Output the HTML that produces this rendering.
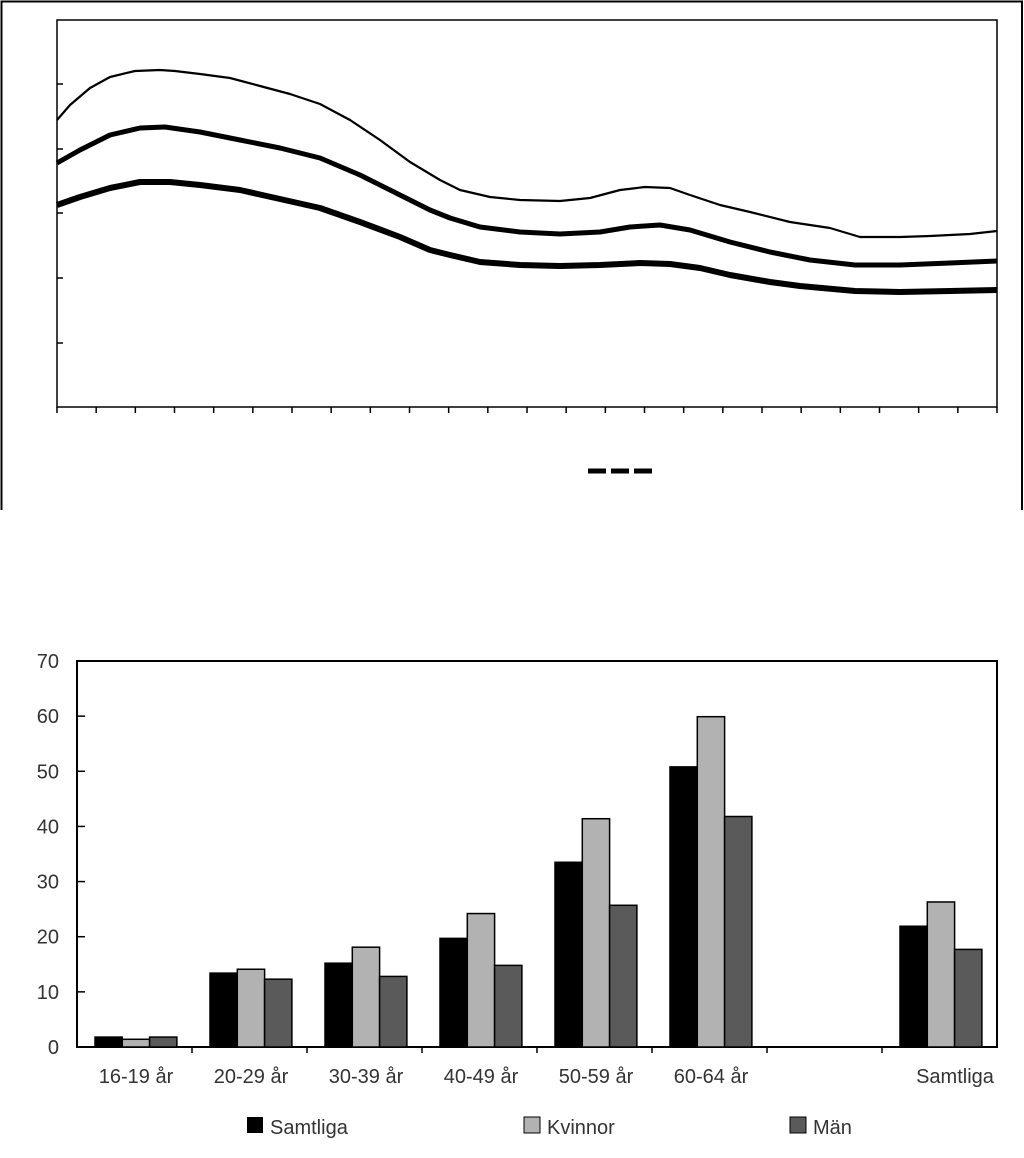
<!DOCTYPE html>
<html><head><meta charset="utf-8"><style>
html,body{margin:0;padding:0;background:#fff;}
svg{display:block;font-family:"Liberation Sans",Arial,sans-serif;}
</style></head><body>
<svg width="1024" height="1158" viewBox="0 0 1024 1158" xmlns="http://www.w3.org/2000/svg">
<path d="M1.5 510 V1.5 H1022 V510" fill="none" stroke="#000" stroke-width="2"/>
<path d="M57 20 H997 V407 H57 Z" fill="none" stroke="#000" stroke-width="1.5"/>
<g stroke="#000" stroke-width="1.5">
<line x1="57" y1="84" x2="63" y2="84"/><line x1="57" y1="149" x2="63" y2="149"/><line x1="57" y1="213" x2="63" y2="213"/><line x1="57" y1="278" x2="63" y2="278"/><line x1="57" y1="343" x2="63" y2="343"/>
</g>
<g id="xt" stroke="#000" stroke-width="1.5"></g>
<g fill="none" stroke="#000" stroke-linejoin="round">
<polyline stroke-width="2.2" points="57,120 70,105 90,88 110,77 135,71 160,70 175,71 200,74 230,78 260,86 290,94 320,104 350,120 380,140 410,162 440,180 460,190 490,197 520,200 560,201 590,198 620,190 645,187 670,188 690,195 720,205 750,212 790,222 830,228 860,237 900,237 930,236 970,234 997,231"/>
<polyline stroke-width="5" points="57,163 80,150 110,135 140,128 165,127 200,132 240,140 280,148 320,158 360,175 400,195 430,210 450,218 480,227 520,232 560,234 600,232 630,227 660,225 690,230 730,242 770,252 810,260 855,265 900,265 950,263 997,261"/>
<polyline stroke-width="6" points="57,205 80,197 110,188 140,182 170,182 200,185 240,190 280,199 320,208 360,222 400,237 430,250 450,255 480,262 520,265 560,266 600,265 640,263 670,264 700,268 730,275 770,282 800,286 855,291 900,292 950,291 997,290"/>
</g>
<g stroke="#000" stroke-width="5"><line x1="588" y1="471" x2="606" y2="471"/><line x1="611" y1="471" x2="629" y2="471"/><line x1="634" y1="471" x2="652" y2="471"/></g>

<rect x="77" y="661" width="920" height="386" fill="none" stroke="#000" stroke-width="2"/>
<g id="bars" stroke="#000" stroke-width="1.5"></g>
<g id="yt" stroke="#000" stroke-width="1.5"></g>
<g font-size="20" fill="#333" text-anchor="end" id="yl"></g>
<g font-size="20" fill="#333" text-anchor="middle">
<text x="136" y="1083">16-19 år</text><text x="251" y="1083">20-29 år</text><text x="366" y="1083">30-39 år</text><text x="481" y="1083">40-49 år</text><text x="596" y="1083">50-59 år</text><text x="711" y="1083">60-64 år</text><text x="955" y="1083">Samtliga</text>
</g>
<g font-size="20" fill="#333">
<rect x="247" y="1117" width="16" height="16" fill="#000"/><text x="270" y="1134">Samtliga</text>
<rect x="524" y="1117" width="16" height="16" fill="#b2b2b2" stroke="#000"/><text x="547" y="1134">Kvinnor</text>
<rect x="790" y="1117" width="16" height="16" fill="#5a5a5a" stroke="#000"/><text x="813" y="1134">Män</text>
</g>
<script>
var ns="http://www.w3.org/2000/svg";
function el(p,t,a){var e=document.createElementNS(ns,t);for(var k in a)e.setAttribute(k,a[k]);p.appendChild(e);return e;}
var xt=document.getElementById('xt');
for(var i=0;i<=24;i++){var x=57+i*940/24;el(xt,'line',{x1:x,y1:407,x2:x,y2:413});}
var data=[[1.8,1.4,1.8],[13.4,14.1,12.3],[15.2,18.1,12.8],[19.7,24.2,14.8],[33.5,41.4,25.7],[50.8,59.9,41.8],null,[21.9,26.3,17.7]];
var cols=['#000','#b2b2b2','#5a5a5a'];
var b=document.getElementById('bars');var s=386/70;
data.forEach(function(d,g){if(!d)return;var x0=77+g*115+18;d.forEach(function(v,j){var h=v*s;el(b,'rect',{x:x0+j*27.3,y:1047-h,width:27.3,height:h,fill:cols[j]});});});
var yt=document.getElementById('yt');
for(var i=1;i<8;i++){var x=77+i*115;el(yt,'line',{x1:x,y1:1047,x2:x,y2:1053});}
var yl=document.getElementById('yl');
for(var v=0;v<=70;v+=10){var y=1047-v*s;if(v>0&&v<70)el(yt,'line',{x1:77,y1:y,x2:85,y2:y});var t=el(yl,'text',{x:59,y:y+7});t.textContent=v;}
</script>
</svg>
</body></html>
